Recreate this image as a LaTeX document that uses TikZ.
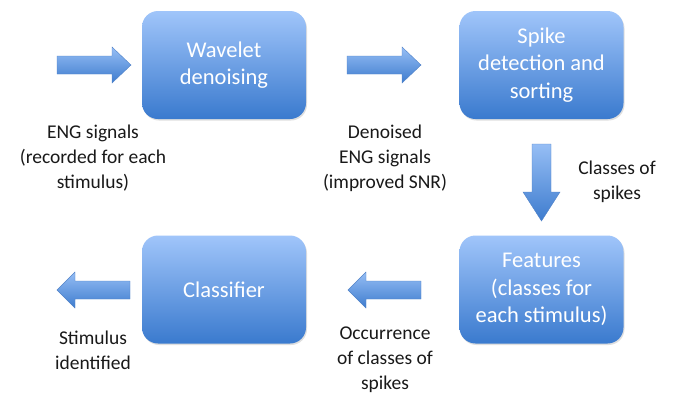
\documentclass[tikz,border=0pt]{standalone}
\usepackage{fontspec}
\setmainfont{Carlito}
\usetikzlibrary{shadows}
\definecolor{boxtop}{RGB}{160,197,250}
\definecolor{boxbot}{RGB}{58,122,206}
\definecolor{arrtop}{RGB}{150,190,245}
\definecolor{arrbot}{RGB}{62,124,206}
\definecolor{arredge}{RGB}{80,130,200}
\definecolor{txt}{RGB}{25,25,25}
\tikzset{
  stagebox/.style={rounded corners=16pt, top color=boxtop, bottom color=boxbot, draw=none,
    minimum width=164pt, minimum height=108pt, inner sep=0pt,
    text=white, font=\fontsize{22.5}{27.5}\selectfont, align=center,
    drop shadow={opacity=0.25, shadow xshift=1pt, shadow yshift=-1.5pt}},
  blockarrow/.style={top color=arrtop, bottom color=arrbot, draw=arredge, line width=0.4pt, line join=miter},
  lbl/.style={text=txt, font=\fontsize{19.5}{25}\selectfont, align=center, inner sep=0pt}
}
\begin{document}
\begin{tikzpicture}[x=1pt,y=-1pt]
\useasboundingbox (0,0) rectangle (676,394);
\fill[white] (0,0) rectangle (676,394);
% boxes
\node[stagebox] (wav) at (224,65) {Wavelet\\denoising};
\node[stagebox] (spk) at (541.5,65) {Spike\\detection and\\sorting};
\node[stagebox] (feat) at (541.5,289.5) {Features\\(classes for\\each stimulus)};
\node[stagebox] (cls) at (224,289.5) {Classifier};
% block arrows
\path[blockarrow] (57,56) -- (112,56) -- (112,47) -- (131,65) -- (112,83) -- (112,74) -- (57,74) -- cycle;
\path[blockarrow] (347,56) -- (402,56) -- (402,47) -- (421,65) -- (402,83) -- (402,74) -- (347,74) -- cycle;
\path[blockarrow] (532,144) -- (551,144) -- (551,192) -- (560,192) -- (541.5,221) -- (523,192) -- (532,192) -- cycle;
\path[blockarrow] (421,281) -- (366,281) -- (366,272) -- (348,290) -- (366,308) -- (366,299) -- (421,299) -- cycle;
\path[blockarrow] (130,281) -- (75,281) -- (75,272) -- (57,290) -- (75,308) -- (75,299) -- (130,299) -- cycle;
% labels
\node[lbl] (l1) at (93,158) {ENG signals\\(recorded for each\\stimulus)};
\node[lbl] (l2) at (385,158) {Denoised\\ENG signals\\(improved SNR)};
\node[lbl] (l3) at (617,182) {Classes of\\spikes};
\node[lbl] (l4) at (385,360) {Occurrence\\of classes of\\spikes};
\node[lbl] (l5) at (93,350) {Stimulus\\identified};
\end{tikzpicture}
\end{document}
